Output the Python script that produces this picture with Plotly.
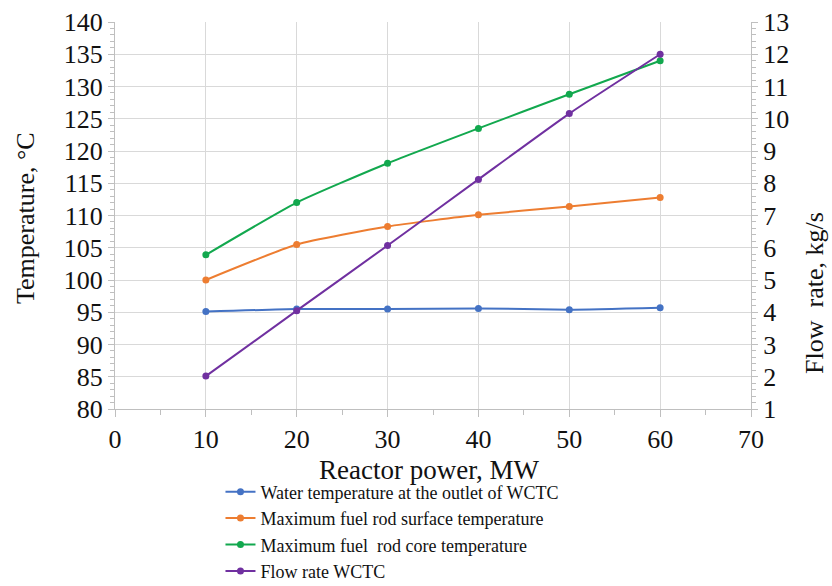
import plotly.graph_objects as go

power = [10, 20, 30, 40, 50, 60]
water_temp = [95.1, 95.5, 95.5, 95.6, 95.4, 95.7]
surface_temp = [100.0, 105.5, 108.3, 110.1, 111.4, 112.8]
core_temp = [103.9, 112.0, 118.1, 123.5, 128.8, 134.0]
flow_rate = [2.02, 4.05, 6.07, 8.12, 10.16, 12.0]

names = ["Water temperature at the outlet of WCTC",
         "Maximum fuel rod surface temperature",
         "Maximum fuel  rod core temperature",
         "Flow rate WCTC"]
colors = ["#4472C4", "#ED7D31", "#12A84E", "#7030A0"]

FONT = "Liberation Serif"
TXT = "#111111"

def f(size):
    return dict(family=FONT, size=size, color=TXT)

fig = go.Figure()
for name, vals, col in zip(names[:3], [water_temp, surface_temp, core_temp], colors[:3]):
    fig.add_trace(go.Scatter(x=power, y=vals, name=name, mode="lines+markers",
                             line=dict(color=col, width=2, shape="spline", smoothing=0.5),
                             marker=dict(color=col, size=7)))
fig.add_trace(go.Scatter(x=power, y=flow_rate, name=names[3], mode="lines+markers",
                         yaxis="y2",
                         line=dict(color=colors[3], width=2, shape="spline", smoothing=0.5),
                         marker=dict(color=colors[3], size=7)))

grid = "#d9d9d9"
fig.update_layout(
    width=832, height=586,
    margin=dict(l=115, r=81, t=22, b=177, autoexpand=False),
    paper_bgcolor="white", plot_bgcolor="white",
    font=f(24),
    xaxis=dict(range=[0, 70], dtick=10, showgrid=True, gridcolor=grid, gridwidth=1,
               showline=True, linecolor="#bfbfbf", linewidth=1, zeroline=False,
               ticks="outside", ticklen=7, tickcolor="#bfbfbf",
               minor=dict(dtick=5, ticks="outside", ticklen=5, tickcolor="#bfbfbf", showgrid=False),
               tickfont=f(26)),
    yaxis=dict(range=[80, 140], dtick=5, showgrid=True, gridcolor=grid,
               showline=True, linecolor="#bfbfbf", linewidth=1, zeroline=False,
               ticks="outside", ticklen=6, tickcolor="#bfbfbf",
               minor=dict(dtick=1, ticks="outside", ticklen=4, tickcolor="#bfbfbf", showgrid=False),
               tickfont=f(26)),
    yaxis2=dict(range=[1, 13], dtick=1, overlaying="y", side="right", showgrid=False,
                showline=True, linecolor="#bfbfbf", linewidth=1, zeroline=False,
                ticks="outside", ticklen=6, tickcolor="#bfbfbf",
                minor=dict(dtick=0.2, ticks="outside", ticklen=4, tickcolor="#bfbfbf", showgrid=False),
                tickfont=f(26)),
    legend=dict(orientation="v", x=0.265, xanchor="left", xref="container",
                y=0.192, yanchor="top", yref="container",
                font=f(18), tracegroupgap=0, itemwidth=30,
                bgcolor="rgba(0,0,0,0)"),
    showlegend=True,
    annotations=[
        dict(text="Temperature, °C", xref="paper", yref="paper", x=-0.1415, y=0.4935,
             xanchor="center", yanchor="middle", textangle=-90, showarrow=False,
             font=f(26)),
        dict(text="Flow  rate, kg/s", xref="paper", yref="paper", x=1.1006, y=0.30,
             xanchor="center", yanchor="middle", textangle=-90, showarrow=False,
             font=f(26)),
        dict(text="Reactor power, MW", xref="paper", yref="paper", x=0.495, y=-0.1576,
             xanchor="center", yanchor="middle", showarrow=False,
             font=f(27)),
    ],
)

fig.write_html("out.html")
